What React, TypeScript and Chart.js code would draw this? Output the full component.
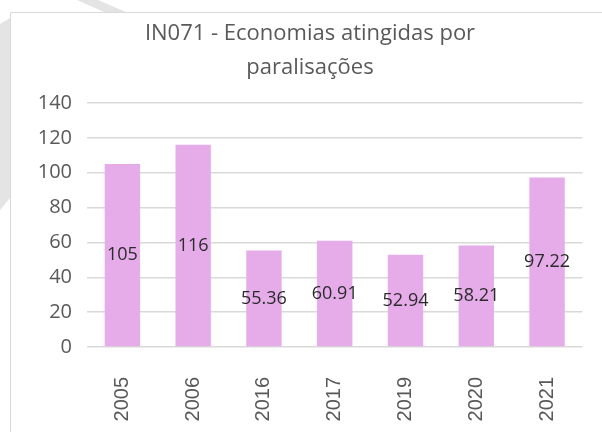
import React, { useEffect, useRef } from "react";
import { Chart, registerables } from "chart.js";

Chart.register(...registerables);

const categories = ["2005", "2006", "2016", "2017", "2019", "2020", "2021"];
const values = [105, 116, 55.36, 60.91, 52.94, 58.21, 97.22];
const valueLabels = ["105", "116", "55.36", "60.91", "52.94", "58.21", "97.22"];
const titleLines = ["IN071 - Economias atingidas por", "paralisações"];
const yMin = 0;
const yMax = 140;
const yStep = 20;

const backgroundPlugin = {
  id: "bgBox",
  beforeDraw(chart: any) {
    const ctx = chart.ctx;
    const w = chart.width;
    const h = chart.height;
    ctx.save();
    ctx.fillStyle = "#ffffff";
    ctx.fillRect(0, 0, w, h);
    // faint watermark pieces outside the chart box
    ctx.fillStyle = "#e4e4e4";
    ctx.beginPath();
    ctx.moveTo(77, 0);
    ctx.lineTo(98, 0);
    ctx.lineTo(126, 12);
    ctx.lineTo(104, 12);
    ctx.closePath();
    ctx.fill();
    ctx.beginPath();
    ctx.moveTo(0, 24);
    ctx.lineTo(10, 18);
    ctx.lineTo(10, 198);
    ctx.lineTo(0, 210);
    ctx.closePath();
    ctx.fill();
    // chart box
    ctx.fillStyle = "#ffffff";
    ctx.fillRect(10, 12, w - 10, h - 12);
    ctx.strokeStyle = "#d9d9d9";
    ctx.lineWidth = 1;
    ctx.beginPath();
    ctx.moveTo(10.5, h);
    ctx.lineTo(10.5, 12.5);
    ctx.lineTo(w, 12.5);
    ctx.stroke();
    ctx.restore();
  },
};

const valueLabelPlugin = {
  id: "valueLabels",
  afterDatasetsDraw(chart: any) {
    const ctx = chart.ctx;
    const meta = chart.getDatasetMeta(0);
    ctx.save();
    ctx.fillStyle = "#2b2b2b";
    ctx.font = "18px 'Open Sans'";
    ctx.textAlign = "center";
    ctx.textBaseline = "middle";
    meta.data.forEach((bar: any, i: number) => {
      const y = (bar.y + bar.base) / 2;
      ctx.fillText(valueLabels[i], bar.x, y);
    });
    ctx.restore();
  },
};

export default function App() {
  const canvasRef = useRef<HTMLCanvasElement | null>(null);

  useEffect(() => {
    if (!canvasRef.current) return;
    const chart = new Chart(canvasRef.current, {
      type: "bar",
      data: {
        labels: categories,
        datasets: [
          {
            data: values,
            backgroundColor: "#E5ACE9",
            borderWidth: 0,
            barPercentage: 0.5,
            categoryPercentage: 1,
          },
        ],
      },
      options: {
        animation: false,
        responsive: false,
        maintainAspectRatio: false,
        layout: { padding: { left: 31, right: 13, top: 0, bottom: 0 } },
        plugins: {
          legend: { display: false },
          tooltip: { enabled: false },
          title: {
            display: true,
            text: titleLines,
            color: "#595959",
            font: { family: "'Open Sans'", size: 22, weight: "normal", lineHeight: "34px" as any },
            padding: { top: 17, bottom: 18 },
          },
        },
        scales: {
          x: {
            grid: { display: false, drawTicks: false },
            border: { display: false },
            ticks: {
              color: "#595959",
              font: { family: "'Liberation Sans'", size: 20 },
              minRotation: 90,
              maxRotation: 90,
              padding: 30,
            },
            afterFit(scale: any) {
              scale.height = 85;
            },
          },
          y: {
            min: yMin,
            max: yMax,
            grid: { color: "#d9d9d9", lineWidth: 1.5, drawTicks: false },
            border: { display: false },
            ticks: {
              stepSize: yStep,
              color: "#595959",
              font: { family: "'Open Sans'", size: 20 },
              padding: 15,
            },
            afterFit(scale: any) {
              scale.width = 56;
            },
          },
        },
      },
      plugins: [backgroundPlugin, valueLabelPlugin],
    });
    return () => chart.destroy();
  }, []);

  return (
    <div style={{ position: "absolute", left: 0, top: 0, width: 602, height: 432 }}>
      <canvas ref={canvasRef} width={602} height={432} style={{ display: "block" }} />
    </div>
  );
}
